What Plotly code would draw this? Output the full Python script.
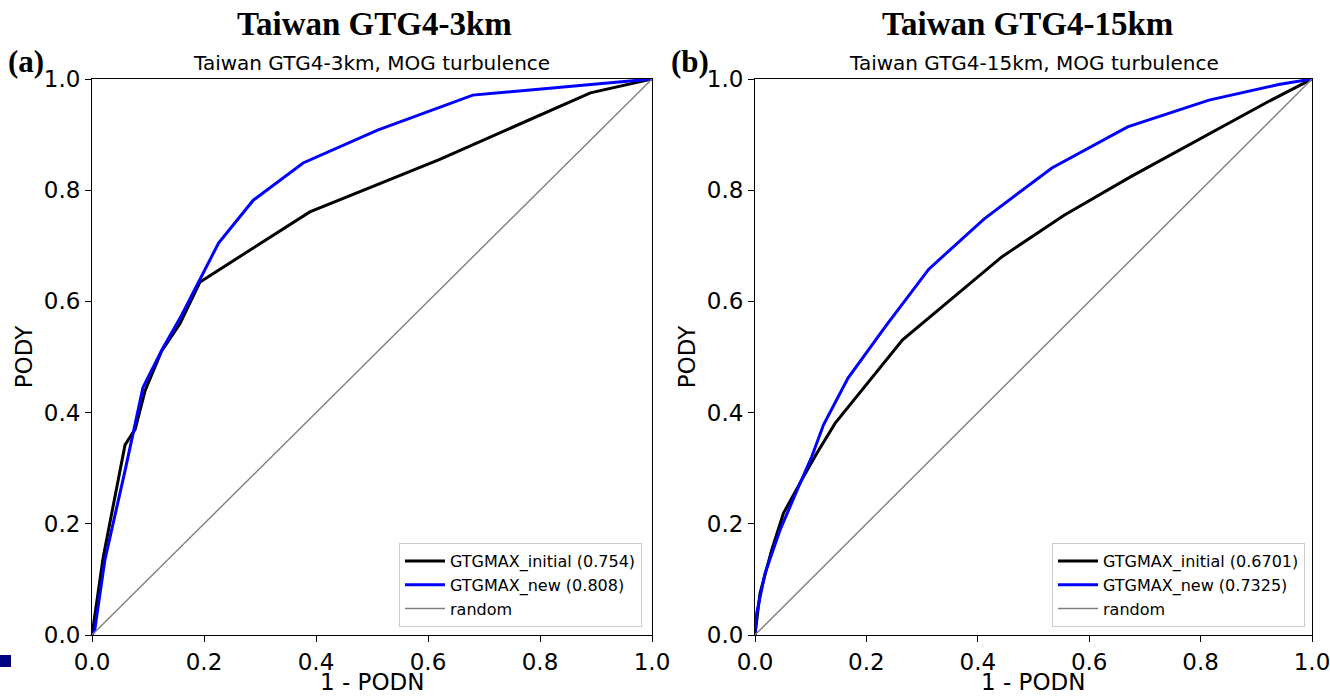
import plotly.graph_objects as go

# ROC curves: x = 1 - PODN, y = PODY
a_init_x = [0.0, 0.004, 0.008, 0.02, 0.059, 0.077, 0.095, 0.124, 0.157, 0.193, 0.389, 0.51, 0.62, 0.89, 1.0]
a_init_y = [0.0, 0.03, 0.05, 0.14, 0.342, 0.37, 0.44, 0.51, 0.56, 0.635, 0.761, 0.81, 0.855, 0.975, 1.0]
a_new_x = [0.0, 0.005, 0.023, 0.06, 0.091, 0.125, 0.16, 0.19, 0.226, 0.288, 0.377, 0.51, 0.68, 1.0]
a_new_y = [0.0, 0.01, 0.135, 0.30, 0.445, 0.513, 0.575, 0.635, 0.705, 0.782, 0.849, 0.908, 0.971, 1.0]

b_init_x = [0.0, 0.009, 0.03, 0.051, 0.084, 0.111, 0.144, 0.2, 0.265, 0.443, 0.555, 0.674, 0.815, 0.921, 1.0]
b_init_y = [0.0, 0.075, 0.153, 0.219, 0.279, 0.327, 0.381, 0.45, 0.531, 0.68, 0.755, 0.824, 0.901, 0.959, 1.0]
b_new_x = [0.0, 0.003, 0.018, 0.045, 0.081, 0.102, 0.123, 0.167, 0.235, 0.312, 0.411, 0.533, 0.669, 0.815, 0.94, 1.0]
b_new_y = [0.0, 0.039, 0.111, 0.189, 0.273, 0.321, 0.378, 0.462, 0.556, 0.658, 0.748, 0.84, 0.914, 0.962, 0.99, 1.0]

random_x = [0.0, 1.0]
random_y = [0.0, 1.0]

a_labels = ["GTGMAX_initial (0.754)", "GTGMAX_new (0.808)", "random"]
b_labels = ["GTGMAX_initial (0.6701)", "GTGMAX_new (0.7325)", "random"]

tick_vals = [0.0, 0.2, 0.4, 0.6, 0.8, 1.0]
tick_text = ["0.0", "0.2", "0.4", "0.6", "0.8", "1.0"]

FONT = "DejaVu Sans"
SERIF = "Liberation Serif"
W, H = 1330, 696

fig = go.Figure()


def add_panel(xa, ya, leg, labels, ix, iy, nx, ny):
    fig.add_trace(go.Scatter(x=ix, y=iy, mode="lines", name=labels[0],
                             line=dict(color="black", width=3),
                             xaxis=xa, yaxis=ya, legend=leg))
    fig.add_trace(go.Scatter(x=nx, y=ny, mode="lines", name=labels[1],
                             line=dict(color="#0000ff", width=3),
                             xaxis=xa, yaxis=ya, legend=leg))
    fig.add_trace(go.Scatter(x=random_x, y=random_y, mode="lines", name=labels[2],
                             line=dict(color="#808080", width=1.4),
                             xaxis=xa, yaxis=ya, legend=leg))


add_panel("x", "y", "legend", a_labels, a_init_x, a_init_y, a_new_x, a_new_y)
add_panel("x2", "y2", "legend2", b_labels, b_init_x, b_init_y, b_new_x, b_new_y)

ydom = [1 - 635 / H, 1 - 79 / H]
axis_common = dict(
    range=[0, 1], tickvals=tick_vals, ticktext=tick_text,
    ticks="outside", ticklen=6, tickwidth=1, tickcolor="black",
    showline=True, linecolor="black", linewidth=1, mirror=True,
    showgrid=False, zeroline=False, automargin=False,
    ticklabeloverflow="allow",
    tickfont=dict(family=FONT, size=23, color="black"),
)
ytitle = dict(text="PODY", font=dict(family=FONT, size=23), standoff=4)

legend_common = dict(
    xanchor="right", yanchor="bottom", y=1 - 627 / H,
    bgcolor="rgba(255,255,255,0.85)", bordercolor="#cccccc", borderwidth=1,
    font=dict(family=FONT, size=16), tracegroupgap=0, itemwidth=40,
)

fig.update_layout(
    width=W, height=H,
    margin=dict(l=0, r=0, t=0, b=0),
    paper_bgcolor="white", plot_bgcolor="white",
    font=dict(family=FONT, color="black"),
    xaxis=dict(domain=[92 / W, 652 / W], anchor="y", **axis_common),
    yaxis=dict(domain=ydom, anchor="x", title=ytitle, **axis_common),
    xaxis2=dict(domain=[755 / W, 1312 / W], anchor="y2", **axis_common),
    yaxis2=dict(domain=ydom, anchor="x2", title=ytitle, **axis_common),
    legend=dict(x=642 / W, **legend_common),
    legend2=dict(x=1305 / W, **legend_common),
    showlegend=True,
)

annotations = [
    dict(text="<b>Taiwan GTG4-3km</b>", x=374 / W, y=1 - 24 / H,
         font=dict(family=SERIF, size=33)),
    dict(text="<b>Taiwan GTG4-15km</b>", x=1027 / W, y=1 - 24 / H,
         font=dict(family=SERIF, size=33)),
    dict(text="Taiwan GTG4-3km, MOG turbulence", x=372 / W, y=1 - 63 / H,
         font=dict(family=FONT, size=20)),
    dict(text="Taiwan GTG4-15km, MOG turbulence", x=1034 / W, y=1 - 63 / H,
         font=dict(family=FONT, size=20)),
    dict(text="<b>(a)</b>", x=26 / W, y=1 - 62 / H,
         font=dict(family=SERIF, size=31)),
    dict(text="<b>(b)</b>", x=690 / W, y=1 - 62 / H,
         font=dict(family=SERIF, size=31)),
]
for ann in annotations:
    ann.update(xref="paper", yref="paper", showarrow=False,
               xanchor="center", yanchor="middle")
    fig.add_annotation(**ann)

# x-axis titles, sitting on the bottom edge of the figure
for xc in (372 / W, 1033 / W):
    fig.add_annotation(text="1 - PODN", x=xc, y=0, xref="paper", yref="paper",
                       xanchor="center", yanchor="bottom", showarrow=False,
                       borderpad=0, font=dict(family=FONT, size=23))

# small navy marker in the lower-left corner
fig.add_shape(type="rect", xref="paper", yref="paper",
              x0=0, x1=11 / W, y0=1 - 667 / H, y1=1 - 655 / H,
              fillcolor="#000080", line=dict(width=0))

fig.write_html("out.html")
